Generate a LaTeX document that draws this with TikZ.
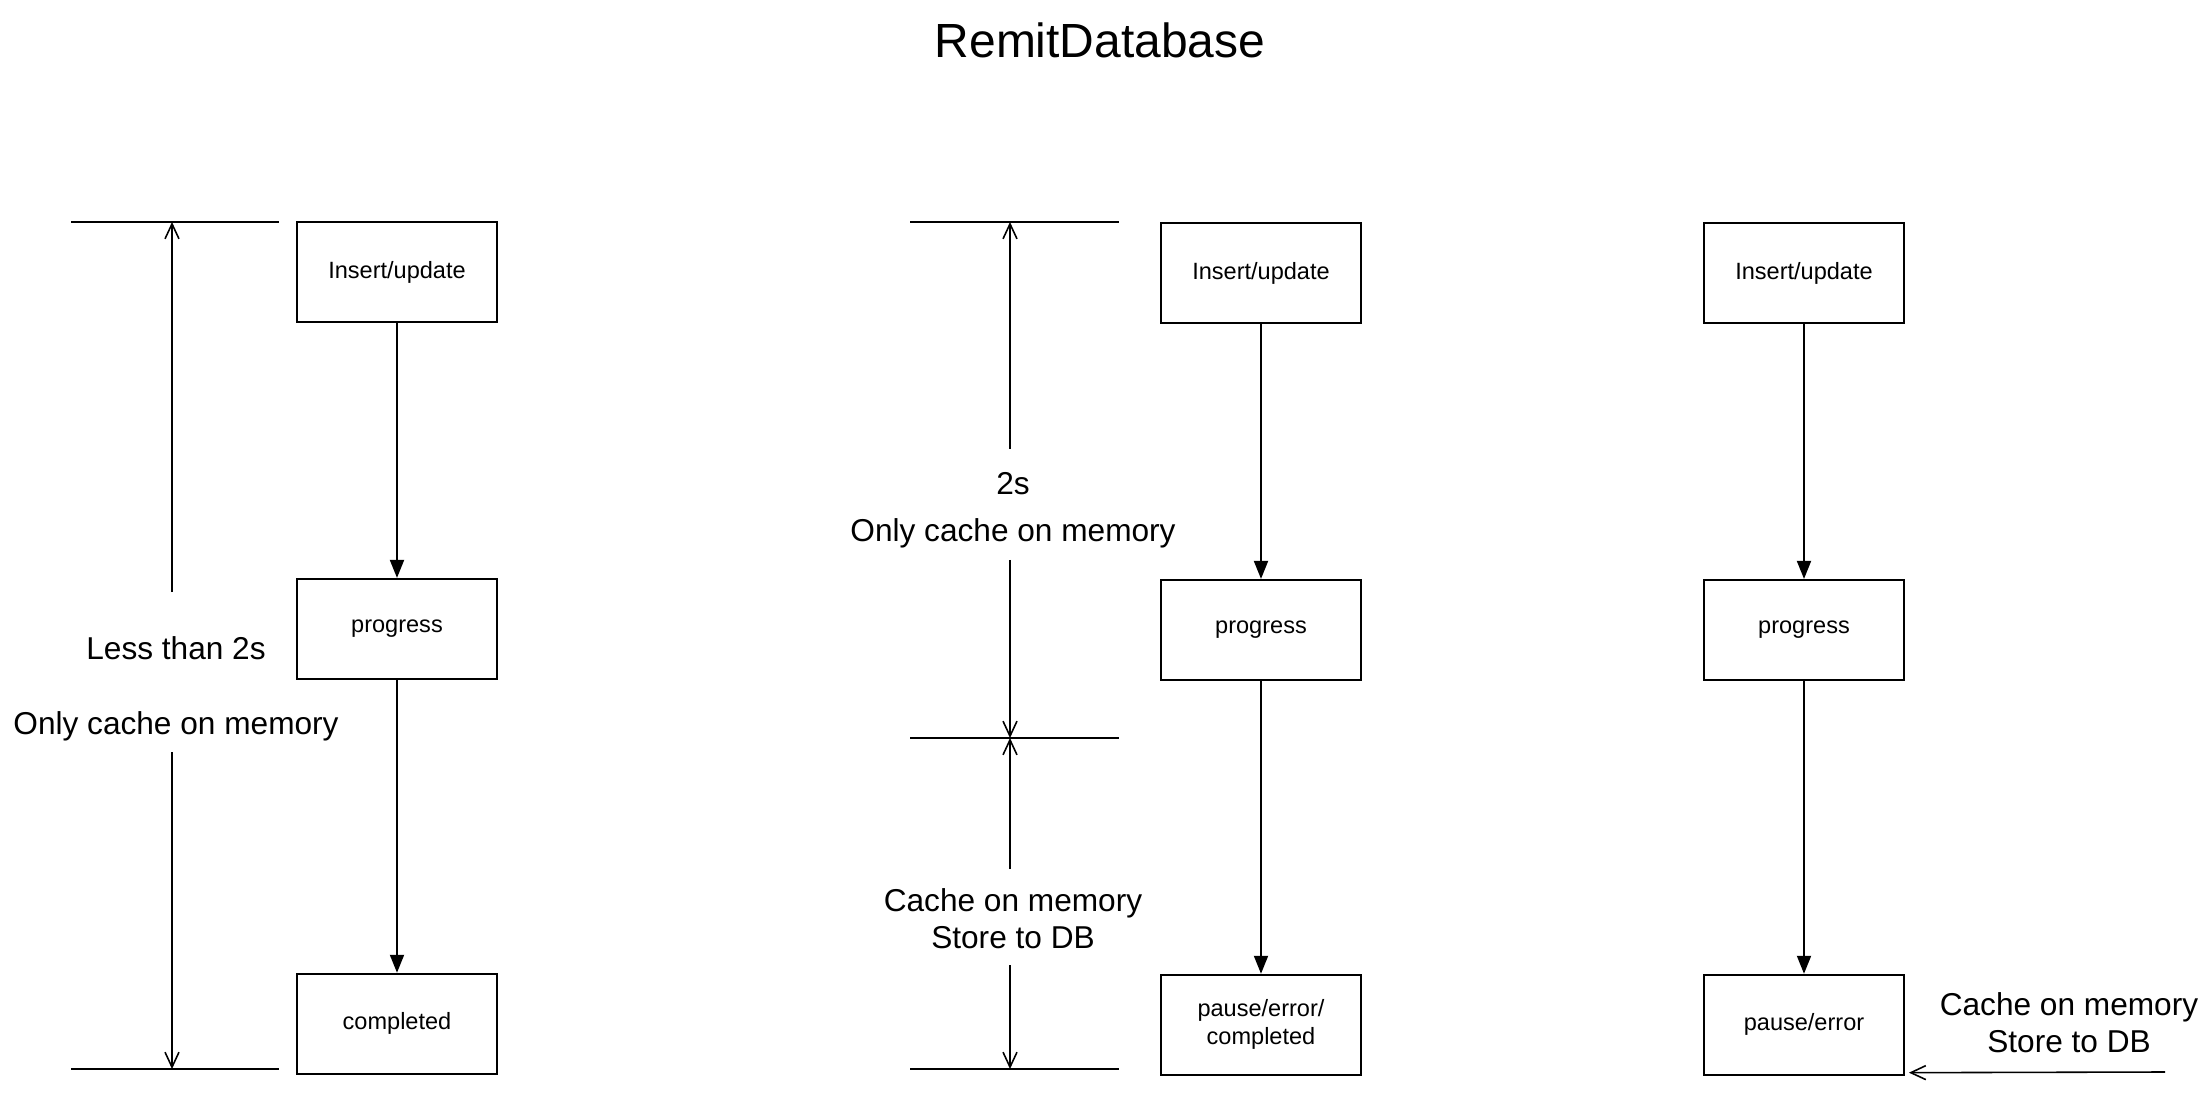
\documentclass[tikz,border=0pt]{standalone}
\usepackage{fontspec}
\setmainfont{Liberation Sans}
\usetikzlibrary{arrows.meta,positioning}
\tikzset{
  statebox/.style={draw, line width=1.1pt, minimum width=4cm, minimum height=2cm, align=center, inner sep=2pt, font=\fontsize{13.4}{16}\selectfont},
  titletext/.style={font=\fontsize{27.3}{32}\selectfont},
  note/.style={align=center, inner sep=0pt, font=\fontsize{18}{21}\selectfont},
  flow/.style={-{Triangle[length=0.36cm, width=0.28cm]}, line width=1.1pt},
  dimarr/.style={-{Straight Barb[length=0.3cm, width=0.28cm]}, line width=0.9pt},
  tick/.style={line width=1.1pt}
}
\begin{document}
\begin{tikzpicture}[x=0.02cm, y=0.02cm]
\useasboundingbox (0,0) rectangle (2212,1107);
\node[titletext] (title) at (1100,1067) {RemitDatabase};
% first column
\node[statebox] (ins1) at (397,835) {Insert/update};
\node[statebox, below=5.1cm of ins1] (prog1) {progress};
\node[statebox, below=5.86cm of prog1] (done1) {completed};
\draw[flow] (ins1) -- (prog1);
\draw[flow] (prog1) -- (done1);
\draw[tick] (71,885) -- (279,885);
\draw[tick] (71,38) -- (279,38);
\coordinate (a1top) at (172,885);
\coordinate (a1up) at (172,515);
\coordinate (a1dn) at (172,355);
\coordinate (a1bot) at (172,38);
\node[note] (less1) at (176,418) {Less than 2s\\[21.7pt]Only cache on memory};
\draw[dimarr] (a1up) -- (a1top);
\draw[dimarr] (a1dn) -- (a1bot);
% second column
\node[statebox] (ins2) at (1261,834) {Insert/update};
\node[statebox, below=5.1cm of ins2] (prog2) {progress};
\node[statebox, below=5.86cm of prog2] (end2) {pause/error/\\completed};
\draw[flow] (ins2) -- (prog2);
\draw[flow] (prog2) -- (end2);
\draw[tick] (910,885) -- (1119,885);
\draw[tick] (910,369) -- (1119,369);
\draw[tick] (910,38) -- (1119,38);
\coordinate (a2top) at (1010,885);
\coordinate (a2s) at (1010,658);
\coordinate (a2e) at (1010,547);
\coordinate (a2mid) at (1010,369);
\coordinate (a2f) at (1010,238);
\coordinate (a2g) at (1010,142);
\coordinate (a2bot) at (1010,38);
\node[note] (mem2) at (1013,597) {2s\\[6pt]Only cache on memory};
\node[note] (db2) at (1013,188) {Cache on memory\\Store to DB};
\draw[dimarr] (a2s) -- (a2top);
\draw[dimarr] (a2e) -- (a2mid);
\draw[dimarr] (a2f) -- (a2mid);
\draw[dimarr] (a2g) -- (a2bot);
% third column
\node[statebox] (ins3) at (1804,834) {Insert/update};
\node[statebox, below=5.1cm of ins3] (prog3) {progress};
\node[statebox, below=5.86cm of prog3] (end3) {pause/error};
\draw[flow] (ins3) -- (prog3);
\draw[flow] (prog3) -- (end3);
\coordinate (src3) at (2165,35);
\node[note] (db3) at (2069,84) {Cache on memory\\Store to DB};
\draw[dimarr] (src3) -- ([shift={(4,3)}]end3.south east);
\end{tikzpicture}
\end{document}
